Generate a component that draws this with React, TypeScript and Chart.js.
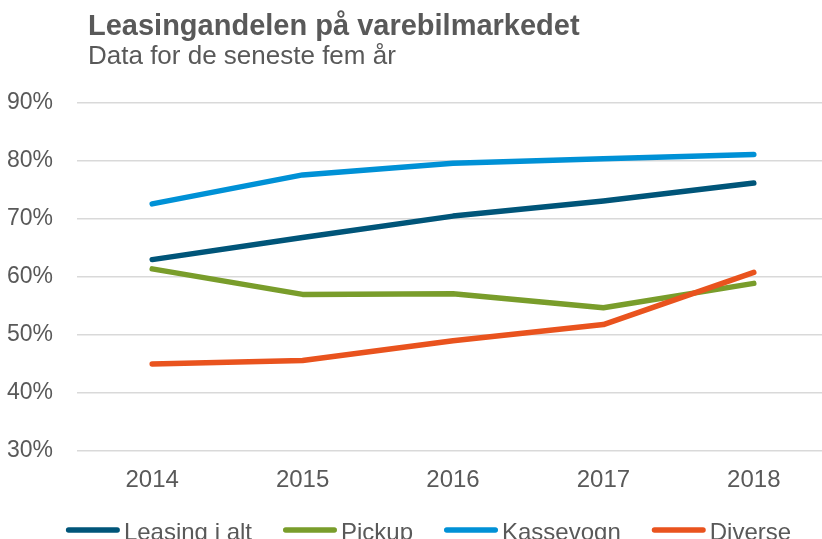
import React, { useEffect, useRef } from "react";
import { Chart, registerables } from "chart.js";

Chart.register(...registerables);

const categories = ["2014", "2015", "2016", "2017", "2018"];
const leasingIAlt = [63.0, 66.8, 70.5, 73.1, 76.2];
const pickup = [61.4, 57.0, 57.1, 54.7, 58.9];
const kassevogn = [72.6, 77.6, 79.6, 80.4, 81.1];
const diverse = [45.0, 45.6, 49.0, 51.8, 60.8];
const seriesLabels = ["Leasing i alt", "Pickup", "Kassevogn", "Diverse"];
const yMin = 30;
const yMax = 90;
const yStep = 10;
const titleText = "Leasingandelen på varebilmarkedet";
const subtitleText = "Data for de seneste fem år";

const colors = ["#005579", "#799d2b", "#0091d6", "#e9531e"];
const textColor = "#595959";
const FONT = "'Liberation Sans', Arial, sans-serif";

const CANVAS_W = 840;
const CANVAS_H = 560;

const headerLegendPlugin = {
  id: "headerLegend",
  afterDraw(chart: any) {
    const ctx = chart.ctx;
    ctx.save();
    ctx.fillStyle = textColor;
    ctx.textBaseline = "alphabetic";
    ctx.textAlign = "left";
    ctx.font = `bold 29px ${FONT}`;
    ctx.fillText(titleText, 88, 35);
    ctx.font = `26px ${FONT}`;
    ctx.fillText(subtitleText, 88, 63.5);

    // legend
    ctx.font = `24px ${FONT}`;
    const lineLen = 54;
    const gapText = 4;
    const gapItem = 31;
    const ds = chart.data.datasets;
    const widths = ds.map((d: any) => lineLen + gapText + ctx.measureText(d.label).width);
    const total = widths.reduce((a: number, b: number) => a + b, 0) + gapItem * (ds.length - 1);
    let x = 428.5 - total / 2;
    const lineY = 530;
    ds.forEach((d: any, i: number) => {
      ctx.strokeStyle = d.borderColor;
      ctx.lineWidth = 5.5;
      ctx.lineCap = "round";
      ctx.beginPath();
      ctx.moveTo(x + 2.75, lineY);
      ctx.lineTo(x + lineLen - 2.75, lineY);
      ctx.stroke();
      ctx.fillStyle = textColor;
      ctx.fillText(d.label, x + lineLen + gapText, 540);
      x += widths[i] + gapItem;
    });
    ctx.restore();
  },
};

export default function App() {
  const ref = useRef<HTMLCanvasElement | null>(null);
  useEffect(() => {
    if (!ref.current) return;
    const series = [leasingIAlt, pickup, kassevogn, diverse];
    const chart = new Chart(ref.current, {
      type: "line",
      data: {
        labels: categories,
        datasets: series.map((data, i) => ({
          label: seriesLabels[i],
          data,
          borderColor: colors[i],
          backgroundColor: colors[i],
          borderWidth: 5.5,
          pointRadius: 0,
          pointHoverRadius: 0,
          tension: 0,
          borderCapStyle: "round" as const,
          borderJoinStyle: "round" as const,
          fill: false,
          order: series.length - i,
        })),
      },
      options: {
        responsive: false,
        animation: false,
        events: [],
        layout: { padding: { left: 7, right: 11, top: 103, bottom: 67 } },
        plugins: {
          legend: { display: false },
          title: { display: false },
          tooltip: { enabled: false },
        },
        scales: {
          x: {
            offset: true,
            grid: { display: false, drawTicks: false },
            border: { display: false },
            ticks: {
              color: textColor,
              font: { family: FONT, size: 24 },
              padding: 15,
              maxRotation: 0,
            },
            afterFit: (scale: any) => {
              scale.height = 42;
            },
          },
          y: {
            min: yMin,
            max: yMax,
            grid: { color: "#d9d9d9", lineWidth: 1.6, drawTicks: false },
            border: { display: false },
            ticks: {
              stepSize: yStep,
              color: textColor,
              font: { family: FONT, size: 23 },
              padding: 24,
              callback: (v: any) => `${v}%`,
            },
            afterFit: (scale: any) => {
              scale.width = 70;
            },
          },
        },
      },
      plugins: [headerLegendPlugin],
    });
    return () => chart.destroy();
  }, []);
  return (
    <div
      style={{
        position: "fixed",
        left: 0,
        top: 0,
        width: 822,
        height: 539,
        overflow: "hidden",
        background: "#fff",
      }}
    >
      <canvas
        ref={ref}
        width={CANVAS_W}
        height={CANVAS_H}
        style={{ width: CANVAS_W, height: CANVAS_H, display: "block" }}
      />
    </div>
  );
}
